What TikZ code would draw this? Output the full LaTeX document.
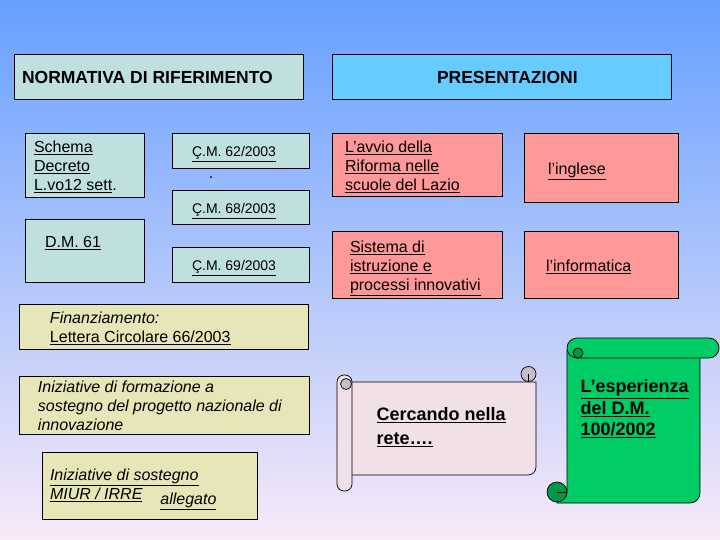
\documentclass[tikz,border=0pt]{standalone}
\usepackage{fontspec}
\setmainfont{Liberation Sans}
\usetikzlibrary{positioning}
\definecolor{bgtop}{RGB}{102,160,255}
\definecolor{bgmid}{RGB}{160,200,245}
\definecolor{bgbot}{RGB}{248,234,248}
\definecolor{normfill}{RGB}{192,224,224}
\definecolor{presfill}{RGB}{102,204,255}
\definecolor{rosa}{RGB}{255,153,153}
\definecolor{pagliafill}{RGB}{230,230,184}
\definecolor{pergamena}{RGB}{242,224,232}
\definecolor{ricciolo}{RGB}{200,190,200}
\definecolor{verde}{RGB}{0,204,102}
\definecolor{verdescuro}{RGB}{0,150,75}
% testo allineato a sinistra dentro una casella di larghezza fissa
\newcommand{\cella}[3]{\makebox[#1pt][l]{\hspace{#2pt}\raisebox{-3pt}[\height][\depth]{\begin{tabular}{@{}l@{}}#3\end{tabular}}}}
\newcommand{\sotto}[1]{\underline{#1}}

\begin{document}
\begin{tikzpicture}[x=1pt, y=-1pt,
  box/.style={rectangle, draw=black, line width=0.7pt, inner sep=0pt},
  norm/.style={box, fill=normfill},
  pres/.style={box, fill=rosa},
  paglia/.style={box, fill=pagliafill},
  corpo/.style={font=\fontsize{16}{19}\selectfont},
  titolo/.style={font=\fontsize{17.5}{20}\selectfont\bfseries},
  circolare/.style={font=\fontsize{14}{17}\selectfont},
  rotolo/.style={font=\fontsize{18}{24}\selectfont\bfseries}
]
\useasboundingbox (0,0) rectangle (720,540);
\shade[top color=bgtop, middle color=bgmid, bottom color=bgbot] (0,0) rectangle (720,540);

% --- Intestazioni ---
\node[norm, titolo, minimum width=289, minimum height=45] (normativa) at (158.5,76.5)
  {\cella{289}{8}{NORMATIVA DI RIFERIMENTO}};
\node[box, fill=presfill, titolo, minimum width=339, minimum height=45] (presentazioni) at (501.5,76.5)
  {\cella{339}{105}{PRESENTAZIONI}};

% --- Normativa ---
\node[norm, corpo, minimum width=119, minimum height=64] (schema) at (84.5,165)
  {\cella{119}{9}{\sotto{Schema}\\\sotto{Decreto}\\\sotto{L.vo12 sett}.}};
\node[norm, corpo, minimum width=119, minimum height=63] (dm61) at (84.5,250.5)
  {\cella{119}{20}{\sotto{D.M. 61}\\\mbox{}}};
\node[norm, circolare, minimum width=137, minimum height=35] (cm62) at (240.5,150.5)
  {\cella{137}{20}{\sotto{Ç.M. 62/2003}}};
\node[corpo] (punto) at (211,178) {.};
\node[norm, circolare, minimum width=137, minimum height=34] (cm68) at (240.5,207)
  {\cella{137}{20}{\sotto{Ç.M. 68/2003}}};
\node[norm, circolare, minimum width=137, minimum height=35] (cm69) at (240.5,264.5)
  {\cella{137}{20}{\sotto{Ç.M. 69/2003}}};

% --- Finanziamento e iniziative ---
\node[paglia, corpo, minimum width=289, minimum height=45] (finanziamento) at (163.5,326.5)
  {\cella{289}{31}{\textit{Finanziamento:}\\\sotto{Lettera Circolare 66/2003}}};
\node[paglia, corpo, minimum width=290, minimum height=58] (formazione) at (164,405)
  {\cella{290}{19}{\itshape Iniziative di formazione a\\\itshape sostegno del progetto nazionale di\\\itshape innovazione}};
\node[paglia, corpo, minimum width=215, minimum height=67] (sostegno) at (149.5,485.5)
  {\cella{215}{8}{\itshape\sotto{Iniziative di sostegno}\\\itshape\sotto{MIUR / IRRE}\hspace{18pt}\raisebox{-5pt}{\itshape\sotto{allegato}}}};

% --- Presentazioni ---
\node[pres, corpo, minimum width=170, minimum height=63] (avvio) at (417,164.5)
  {\cella{170}{13}{\sotto{L’avvio della}\\\sotto{Riforma nelle}\\\sotto{scuole del Lazio}}};
\node[pres, corpo, minimum width=154, minimum height=69] (inglese) at (601,167.5)
  {\cella{154}{24}{\sotto{l’inglese}}};
\node[pres, corpo, minimum width=170, minimum height=67] (sistema) at (417,264.5)
  {\cella{170}{18}{\sotto{Sistema di}\\\sotto{istruzione e}\\\sotto{processi innovativi}}};
\node[pres, corpo, minimum width=154, minimum height=67] (informatica) at (601,264.5)
  {\cella{154}{22}{\sotto{l’informatica}}};

% --- Pergamena orizzontale ---
\filldraw[fill=pergamena, line width=0.7pt] (344,382) -- (536,382)
  [rounded corners=8pt] -- (536,475) [sharp corners] -- (344,475) -- cycle;
\filldraw[fill=ricciolo, line width=0.7pt] (528.5,374) circle (7.5);
\draw[line width=0.7pt] (528.5,374) -- (528.5,382);
\filldraw[fill=pergamena, line width=0.7pt, rounded corners=7pt] (337,375) rectangle (352,491);
\filldraw[fill=ricciolo, line width=0.7pt] (346,384) circle (5.5);
\node[rotolo, anchor=west] (rete) at (373,428)
  {\begin{tabular}{@{}l@{}}\sotto{Cercando nella}\\\sotto{rete….}\end{tabular}};

% --- Pergamena verticale ---
\filldraw[fill=verde, line width=0.7pt] (567,350) -- (700,350)
  [rounded corners=10pt] -- (700,503) [sharp corners] -- (557,503) -- (557,492) -- (567,492) -- cycle;
\filldraw[fill=verdescuro, line width=0.7pt] (557,492) circle (10);
\draw[line width=0.7pt] (557,492) -- (567,492);
\filldraw[fill=verde, line width=0.7pt, rounded corners=10pt] (567,338) rectangle (719,358);
\filldraw[fill=verdescuro, line width=0.7pt] (578,353) circle (5);
\node[rotolo, font=\fontsize{18}{21.5}\selectfont\bfseries, anchor=west] (esperienza) at (577,410)
  {\begin{tabular}{@{}l@{}}\sotto{L’esperienza}\\\sotto{del D.M.}\\\sotto{100/2002}\end{tabular}};
\end{tikzpicture}
\end{document}
